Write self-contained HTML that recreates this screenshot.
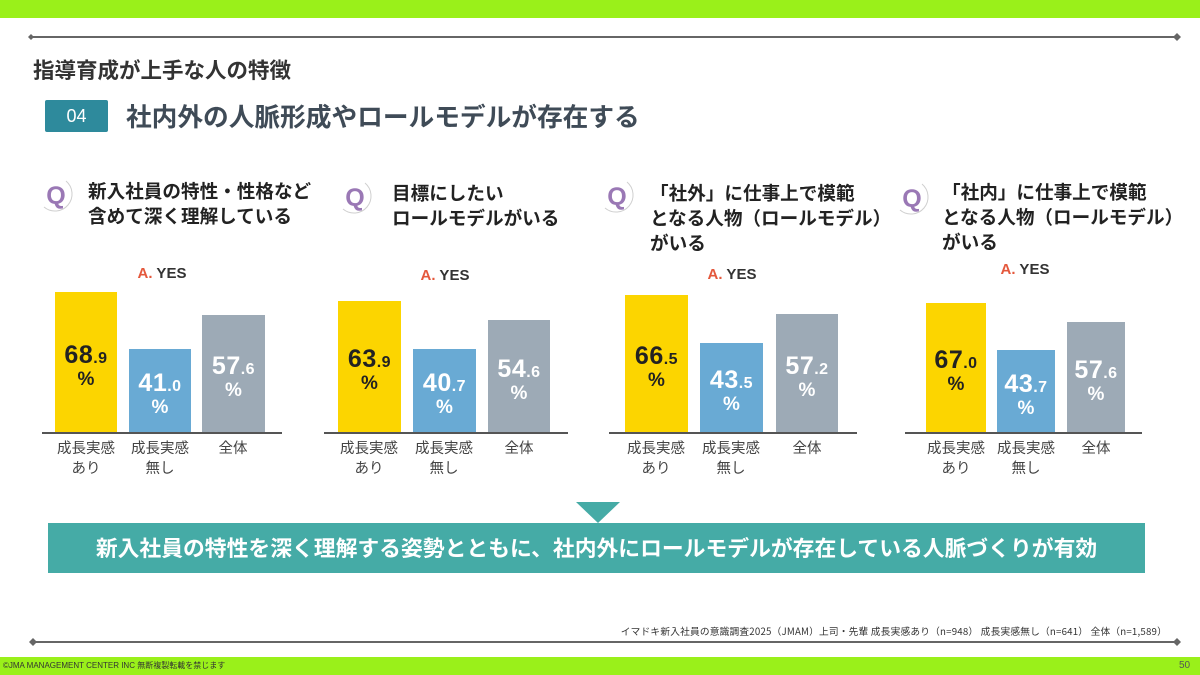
<!DOCTYPE html>
<html><head><meta charset="utf-8">
<style>
*{margin:0;padding:0;box-sizing:border-box}
body{width:1200px;height:675px;position:relative;background:#fff;overflow:hidden;font-family:"Liberation Sans","Noto Sans CJK JP",sans-serif}
.abs{position:absolute}
.jp{font-family:"Noto Sans CJK JP","Liberation Sans",sans-serif}
.qt{position:absolute;font-family:"Noto Sans CJK JP",sans-serif;font-weight:700;font-size:18.6px;line-height:25px;color:#222;white-space:nowrap}
.ayes{position:absolute;font-size:15px;font-weight:700;white-space:nowrap;transform:translateX(-50%);line-height:18px;color:#333}
.ayes b{color:#E4583C}
.bar{position:absolute;display:flex;flex-direction:column;justify-content:center;align-items:center;padding-top:8px}
.y{background:#FCD500;color:#222}
.bl{background:#69AAD4;color:#fff}
.g{background:#9DAAB6;color:#fff}
.num{font-weight:700;font-size:25px;line-height:22px;white-space:nowrap;letter-spacing:0.5px}
.num small{font-size:16px}
.pct{font-weight:700;font-size:19px;line-height:20px}
.base{position:absolute;height:2px;background:#555;top:432px}
.lab{position:absolute;font-family:"Noto Sans CJK JP",sans-serif;font-size:14.5px;line-height:20px;color:#444;text-align:center;width:80px;white-space:nowrap}
</style></head><body>
<div class="abs" style="left:0;top:0;width:1200px;height:18px;background:#9AF01A"></div>
<div class="abs" style="left:0;top:657px;width:1200px;height:18px;background:#9AF01A"></div>

<svg class="abs" style="left:0;top:0" width="1200" height="675">
<line x1="30" y1="37" x2="1177" y2="37" stroke="#666" stroke-width="2"/>
<polygon points="1177,33 1181,37 1177,41 1173,37" fill="#666"/>
<polygon points="31,34 34,37 31,40 28,37" fill="#666"/>
<line x1="30" y1="642" x2="1177" y2="642" stroke="#666" stroke-width="2"/>
<polygon points="1177,638 1181,642 1177,646 1173,642" fill="#666"/>
<polygon points="33,638 37,642 33,646 29,642" fill="#666"/>
<polygon points="576,502 620,502 598,523" fill="#45ABA6"/>
<g fill="none" stroke="#cfcfcf" stroke-width="1">
<path d="M66 181 A16 16 0 1 1 44 207"/>
<path d="M365 183 A16 16 0 1 1 343 209"/>
<path d="M627 182 A16 16 0 1 1 605 208"/>
<path d="M922 184 A16 16 0 1 1 900 210"/>
</g>
<g font-family="Liberation Sans, sans-serif" font-weight="700" font-size="25" fill="#9A78B5" text-anchor="middle">
<text x="56" y="204">Q</text>
<text x="355" y="206">Q</text>
<text x="617" y="205">Q</text>
<text x="912" y="207">Q</text>
</g>
</svg>

<div class="abs jp" style="left:33px;top:56px;font-size:21.5px;font-weight:700;color:#333;line-height:28px;white-space:nowrap">指導育成が上手な人の特徴</div>
<div class="abs" style="left:45px;top:100px;width:63px;height:32px;background:#2E8A9C;border-radius:2px;color:#fff;font-size:18px;text-align:center;line-height:32px">04</div>
<div class="abs jp" style="left:126px;top:100px;font-size:25.7px;font-weight:700;color:#3F4B57;line-height:32px;white-space:nowrap">社内外の人脈形成やロールモデルが存在する</div>

<!-- Panel 1 -->
<div class="qt" style="left:88px;top:178px">新入社員の特性・性格など<br>含めて深く理解している</div>
<div class="ayes" style="left:162px;top:265px"><b>A.</b> YES</div>
<div class="bar y" style="left:55px;top:292px;width:62px;height:141px"><div class="num">68<small>.9</small></div><div class="pct">%</div></div>
<div class="bar bl" style="left:129px;top:349px;width:62px;height:84px"><div class="num">41<small>.0</small></div><div class="pct">%</div></div>
<div class="bar g" style="left:202px;top:315px;width:63px;height:118px"><div class="num">57<small>.6</small></div><div class="pct">%</div></div>
<div class="base" style="left:42px;width:240px"></div>
<div class="lab" style="left:46px;top:438px">成長実感<br>あり</div>
<div class="lab" style="left:120px;top:438px">成長実感<br>無し</div>
<div class="lab" style="left:193px;top:438px">全体</div>

<!-- Panel 2 -->
<div class="qt" style="left:392px;top:180px">目標にしたい<br>ロールモデルがいる</div>
<div class="ayes" style="left:445px;top:267px"><b>A.</b> YES</div>
<div class="bar y" style="left:338px;top:301px;width:63px;height:132px"><div class="num">63<small>.9</small></div><div class="pct">%</div></div>
<div class="bar bl" style="left:413px;top:349px;width:63px;height:84px"><div class="num">40<small>.7</small></div><div class="pct">%</div></div>
<div class="bar g" style="left:488px;top:320px;width:62px;height:113px"><div class="num">54<small>.6</small></div><div class="pct">%</div></div>
<div class="base" style="left:324px;width:244px"></div>
<div class="lab" style="left:329px;top:438px">成長実感<br>あり</div>
<div class="lab" style="left:404px;top:438px">成長実感<br>無し</div>
<div class="lab" style="left:479px;top:438px">全体</div>

<!-- Panel 3 -->
<div class="qt" style="left:650px;top:180px">「社外」に仕事上で模範<br>となる人物（ロールモデル）<br>がいる</div>
<div class="ayes" style="left:732px;top:266px"><b>A.</b> YES</div>
<div class="bar y" style="left:625px;top:295px;width:63px;height:138px"><div class="num">66<small>.5</small></div><div class="pct">%</div></div>
<div class="bar bl" style="left:700px;top:343px;width:63px;height:90px"><div class="num">43<small>.5</small></div><div class="pct">%</div></div>
<div class="bar g" style="left:776px;top:314px;width:62px;height:119px"><div class="num">57<small>.2</small></div><div class="pct">%</div></div>
<div class="base" style="left:609px;width:248px"></div>
<div class="lab" style="left:616px;top:438px">成長実感<br>あり</div>
<div class="lab" style="left:691px;top:438px">成長実感<br>無し</div>
<div class="lab" style="left:767px;top:438px">全体</div>

<!-- Panel 4 -->
<div class="qt" style="left:942px;top:179px">「社内」に仕事上で模範<br>となる人物（ロールモデル）<br>がいる</div>
<div class="ayes" style="left:1025px;top:261px"><b>A.</b> YES</div>
<div class="bar y" style="left:926px;top:303px;width:60px;height:130px"><div class="num">67<small>.0</small></div><div class="pct">%</div></div>
<div class="bar bl" style="left:997px;top:350px;width:58px;height:83px"><div class="num">43<small>.7</small></div><div class="pct">%</div></div>
<div class="bar g" style="left:1067px;top:322px;width:58px;height:111px"><div class="num">57<small>.6</small></div><div class="pct">%</div></div>
<div class="base" style="left:905px;width:237px"></div>
<div class="lab" style="left:916px;top:438px">成長実感<br>あり</div>
<div class="lab" style="left:986px;top:438px">成長実感<br>無し</div>
<div class="lab" style="left:1056px;top:438px">全体</div>

<!-- Banner -->
<div class="abs jp" style="left:48px;top:523px;width:1097px;height:50px;background:#45ABA6;color:#fff;font-size:21.8px;font-weight:700;text-align:center;line-height:50px;white-space:nowrap">新入社員の特性を深く理解する姿勢とともに、社内外にロールモデルが存在している人脈づくりが有効</div>

<div class="abs jp" style="right:33px;top:624px;font-size:9.7px;color:#333;white-space:nowrap;line-height:14px;letter-spacing:0.2px">イマドキ新入社員の意識調査2025（JMAM）上司・先輩 成長実感あり（n=948） 成長実感無し（n=641） 全体（n=1,589）</div>

<div class="abs" style="left:3px;top:661px;font-size:8px;color:#333;white-space:nowrap;line-height:10px">©JMA MANAGEMENT CENTER INC <span class="jp">無断複製転載を禁じます</span></div>
<div class="abs" style="left:1179px;top:660px;font-size:10px;color:#555;line-height:12px">50</div>
</body></html>
